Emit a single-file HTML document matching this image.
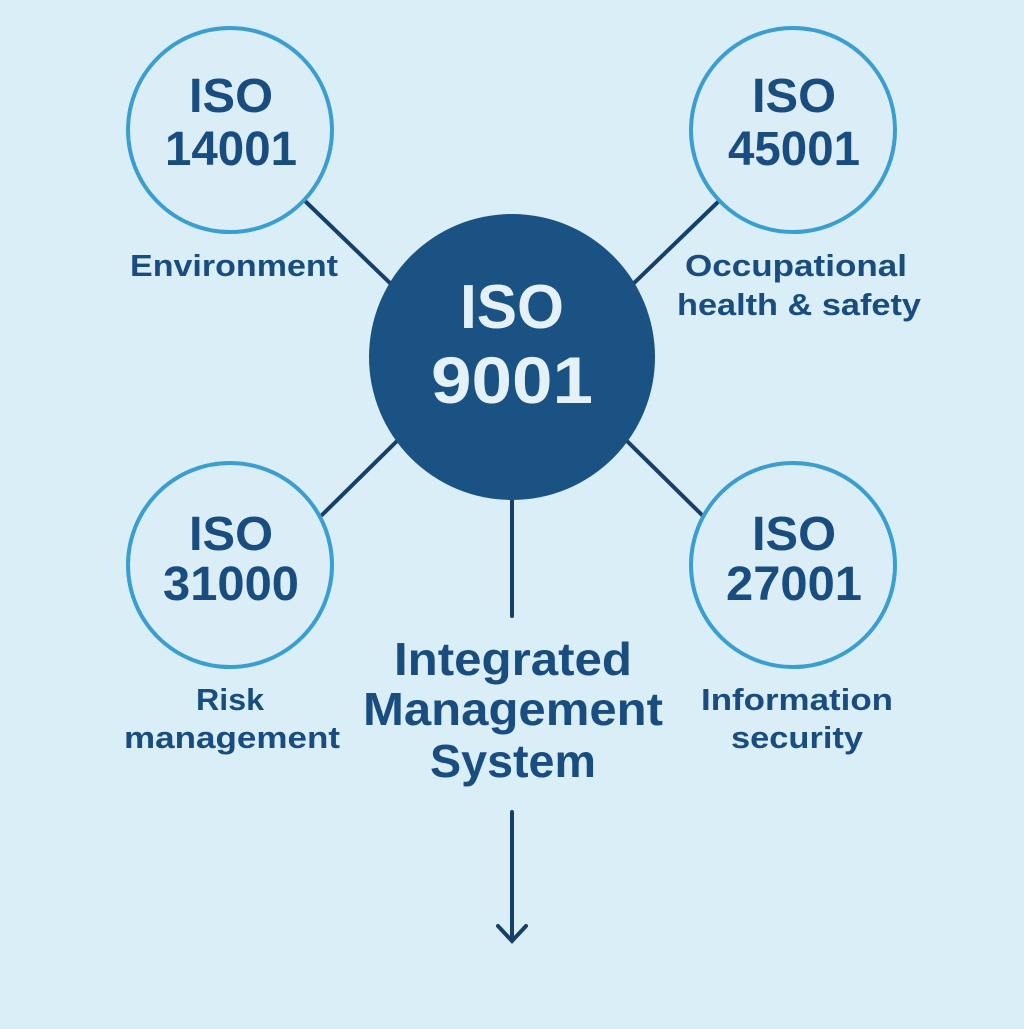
<!DOCTYPE html>
<html><head><meta charset="utf-8"><style>html,body{margin:0;padding:0;background:#d9eef7}</style></head>
<body>
<svg width="1024" height="1024" viewBox="0 0 1024 1024" xmlns="http://www.w3.org/2000/svg" font-family="Liberation Sans, sans-serif" font-weight="bold">
<rect width="1024" height="1024" fill="#d9eef7"/>
<g stroke="#173f6b" stroke-width="4" stroke-linecap="round">
<line x1="305" y1="201" x2="392" y2="285"/>
<line x1="719" y1="201" x2="632" y2="285"/>
<line x1="322" y1="515" x2="396" y2="442"/>
<line x1="702" y1="515" x2="628" y2="442"/>
<line x1="512" y1="500" x2="512" y2="616"/>
<line x1="512" y1="812" x2="512" y2="941"/>
<polyline points="498,926 512,941 526,926" fill="none"/>
</g>
<g fill="#dbeef7" stroke="#3a9fd0" stroke-width="4">
<circle cx="230" cy="130" r="102"/>
<circle cx="793" cy="130" r="102"/>
<circle cx="230" cy="565" r="102"/>
<circle cx="793" cy="565" r="102"/>
</g>
<circle cx="512" cy="357" r="143" fill="#1a5283"/>
<g fill="#1a4d7f" text-anchor="middle" font-size="48" lengthAdjust="spacingAndGlyphs">
<text x="231" y="112" textLength="84" lengthAdjust="spacingAndGlyphs">ISO</text>
<text x="231" y="165" textLength="132" lengthAdjust="spacingAndGlyphs">14001</text>
<text x="794" y="112" textLength="84" lengthAdjust="spacingAndGlyphs">ISO</text>
<text x="794" y="165" textLength="132" lengthAdjust="spacingAndGlyphs">45001</text>
<text x="231" y="550" textLength="84" lengthAdjust="spacingAndGlyphs">ISO</text>
<text x="231" y="600" textLength="136" lengthAdjust="spacingAndGlyphs">31000</text>
<text x="794" y="550" textLength="84" lengthAdjust="spacingAndGlyphs">ISO</text>
<text x="794" y="600" textLength="136" lengthAdjust="spacingAndGlyphs">27001</text>
</g>
<g fill="#1a4d7f" text-anchor="middle" font-size="31">
<text x="234" y="276" textLength="208" lengthAdjust="spacingAndGlyphs">Environment</text>
<text x="796" y="276" textLength="222" lengthAdjust="spacingAndGlyphs">Occupational</text>
<text x="799" y="315" textLength="244" lengthAdjust="spacingAndGlyphs">health &amp; safety</text>
<text x="230" y="710" textLength="68" lengthAdjust="spacingAndGlyphs">Risk</text>
<text x="232" y="748" textLength="216" lengthAdjust="spacingAndGlyphs">management</text>
<text x="797" y="710" textLength="192" lengthAdjust="spacingAndGlyphs">Information</text>
<text x="797" y="748" textLength="132" lengthAdjust="spacingAndGlyphs">security</text>
</g>
<g fill="#1a4d7f" text-anchor="middle" font-size="46">
<text x="513" y="675" textLength="238" lengthAdjust="spacingAndGlyphs">Integrated</text>
<text x="513" y="725" textLength="300" lengthAdjust="spacingAndGlyphs">Management</text>
<text x="513" y="777" textLength="166" lengthAdjust="spacingAndGlyphs">System</text>
</g>
<g fill="#e4f1f8" text-anchor="middle">
<text x="512" y="328" font-size="62" textLength="104" lengthAdjust="spacingAndGlyphs">ISO</text>
<text x="512" y="403" font-size="66" textLength="162" lengthAdjust="spacingAndGlyphs">9001</text>
</g>
</svg>
</body></html>
